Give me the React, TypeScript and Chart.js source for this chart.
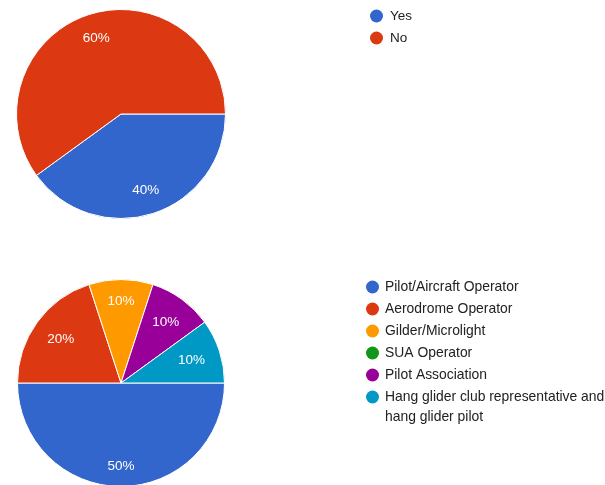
import React, { useEffect, useRef } from "react";
import { Chart, registerables } from "chart.js";

Chart.register(...registerables);

const answerLabels = ["Yes", "No"];
const answerValues = [40, 60];
const answerColors = ["#3366cc", "#dc3912"];

const roleLabels = [
  "Pilot/Aircraft Operator",
  "Aerodrome Operator",
  "Gilder/Microlight",
  "SUA Operator",
  "Pilot Association",
  "Hang glider club representative and hang glider pilot",
];
const roleValues = [50, 20, 10, 0, 10, 10];
const roleColors = ["#3366cc", "#dc3912", "#ff9900", "#109618", "#990099", "#0099c6"];

const FONT = "'Liberation Sans', Arial, sans-serif";

const sliceLabels = {
  id: "sliceLabels",
  afterDatasetsDraw(chart: any) {
    const ctx = chart.ctx;
    const meta = chart.getDatasetMeta(0);
    const data = chart.data.datasets[0].data as number[];
    const total = data.reduce((a, b) => a + b, 0);
    ctx.save();
    ctx.fillStyle = "#ffffff";
    ctx.font = `13.5px ${FONT}`;
    ctx.textAlign = "center";
    ctx.textBaseline = "middle";
    meta.data.forEach((arc: any, i: number) => {
      const v = data[i];
      if (!v) return;
      const p = arc.getProps(["x", "y", "startAngle", "endAngle", "outerRadius"], true);
      const mid = (p.startAngle + p.endAngle) / 2;
      const txt = `${Math.round((v / total) * 100)}%`;
      const w = ctx.measureText(txt).width;
      const h = 10;
      const ux = Math.cos(mid);
      const uy = Math.sin(mid);
      const ox = (ux >= 0 ? 1 : -1) * (w / 2);
      const oy = (uy >= 0 ? 1 : -1) * (h / 2);
      const D = p.outerRadius - 15;
      const uo = ux * ox + uy * oy;
      const t = -uo + Math.sqrt(uo * uo - (ox * ox + oy * oy) + D * D);
      ctx.fillText(txt, p.x + ux * t, p.y + uy * t + 0.5);
    });
    ctx.restore();
  },
};

const sideLegend = {
  id: "sideLegend",
  afterDraw(chart: any, _args: any, opts: any) {
    const ctx = chart.ctx;
    const labels = chart.data.labels as string[];
    const colors = chart.data.datasets[0].backgroundColor as string[];
    ctx.save();
    ctx.font = `${opts.fontSize}px ${FONT}`;
    ctx.textBaseline = "middle";
    ctx.textAlign = "left";
    let y = opts.y;
    labels.forEach((lab, i) => {
      ctx.fillStyle = colors[i];
      ctx.beginPath();
      ctx.arc(opts.x, y, 6.5, 0, Math.PI * 2);
      ctx.fill();
      ctx.fillStyle = "#222222";
      const words = lab.split(" ");
      const lines: string[] = [];
      let cur = "";
      words.forEach((w) => {
        const t = cur ? cur + " " + w : w;
        if (ctx.measureText(t).width > opts.maxWidth && cur) {
          lines.push(cur);
          cur = w;
        } else cur = t;
      });
      lines.push(cur);
      lines.forEach((ln, j) => {
        ctx.fillText(ln, opts.textX, y + j * opts.lineHeight);
      });
      y += opts.step + (lines.length - 1) * opts.lineHeight;
    });
    ctx.restore();
  },
};

function PieChart(props: {
  labels: string[];
  values: number[];
  colors: string[];
  padding: any;
  legend: any;
}) {
  const ref = useRef<HTMLCanvasElement>(null);
  useEffect(() => {
    const chart = new Chart(ref.current as HTMLCanvasElement, {
      type: "pie",
      data: {
        labels: props.labels,
        datasets: [
          {
            data: props.values,
            backgroundColor: props.colors,
            borderColor: "#ffffff",
            borderWidth: 1,
          },
        ],
      },
      options: {
        animation: false,
        responsive: false,
        rotation: 90,
        layout: { padding: props.padding },
        plugins: {
          legend: { display: false },
          tooltip: { enabled: false },
          sideLegend: props.legend,
        } as any,
      },
      plugins: [sliceLabels, sideLegend],
    });
    return () => chart.destroy();
  }, []);
  return <canvas ref={ref} width={605} height={260} style={{ display: "block" }} />;
}

export default function App() {
  return (
    <div
      style={{
        position: "fixed",
        left: 0,
        top: 0,
        width: 605,
        height: 485,
        overflow: "hidden",
        background: "#ffffff",
      }}
    >
      <div style={{ position: "absolute", left: 0, top: 0 }}>
        <PieChart
          labels={answerLabels}
          values={answerValues}
          colors={answerColors}
          padding={{ left: 16, top: 9, right: 379, bottom: 41 }}
          legend={{ x: 376.5, textX: 390, y: 16, step: 22, lineHeight: 20, maxWidth: 210, fontSize: 13.5 }}
        />
      </div>
      <div style={{ position: "absolute", left: 0, top: 240 }}>
        <PieChart
          labels={roleLabels}
          values={roleValues}
          colors={roleColors}
          padding={{ left: 17, top: 39, right: 380, bottom: 13 }}
          legend={{ x: 372.5, textX: 385, y: 47, step: 22, lineHeight: 20.5, maxWidth: 222, fontSize: 13.9 }}
        />
      </div>
    </div>
  );
}
